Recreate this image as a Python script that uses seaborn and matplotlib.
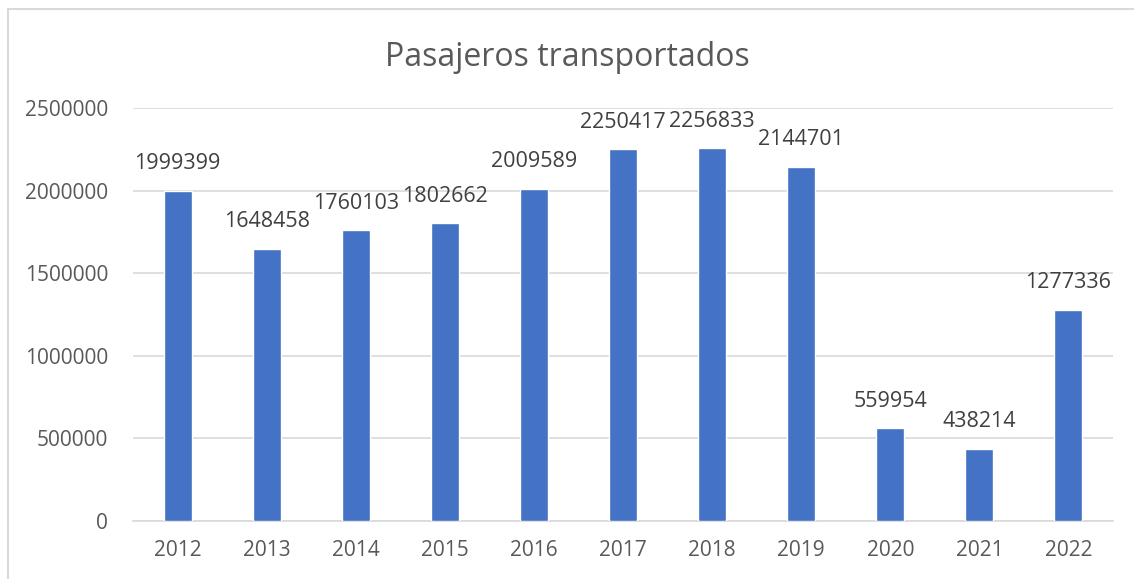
import matplotlib
matplotlib.use("Agg")
import matplotlib.pyplot as plt
import seaborn as sns
import pandas as pd
from matplotlib.patches import Rectangle

years = ["2012", "2013", "2014", "2015", "2016", "2017", "2018", "2019", "2020", "2021", "2022"]
passengers = [1999399, 1648458, 1760103, 1802662, 2009589, 2250417, 2256833, 2144701, 559954, 438214, 1277336]
yticks = [0, 500000, 1000000, 1500000, 2000000, 2500000]

df = pd.DataFrame({"year": years, "pasajeros": passengers})

sns.set_theme(style="white")
plt.rcParams['font.family'] = ['Open Sans', 'DejaVu Sans']

W, H = 1134, 579
fig = plt.figure(figsize=(W / 100, H / 100), dpi=100)
ax = fig.add_axes([133 / W, 1 - 521 / H, (1113 - 133) / W, (521 - 108) / H])

sns.barplot(data=df, x="year", y="pasajeros", color="#4472C4", width=0.315,
            saturation=1, ax=ax, zorder=3)

ax.set_ylim(0, 2500000)
ax.set_xlim(-0.5, len(years) - 0.5)
ax.set_yticks(yticks)
ax.set_yticklabels([str(v) for v in yticks])
ax.yaxis.grid(True, color="#D9D9D9", linewidth=1.2, zorder=0)
for s in ["top", "right", "left"]:
    ax.spines[s].set_visible(False)
ax.spines["bottom"].set_color("#D9D9D9")
ax.spines["bottom"].set_linewidth(1.2)
ax.tick_params(axis="both", length=0, labelsize=15, labelcolor="#595959")
ax.tick_params(axis="y", pad=18)
ax.tick_params(axis="x", pad=14)
ax.set_xlabel("")
ax.set_ylabel("")

for c in ax.containers:
    ax.bar_label(c, labels=[str(v) for v in passengers], padding=12, fontsize=15.5, color="#404040")

fig.text(0.5, 1 - 57 / H, "Pasajeros transportados", ha="center", va="center",
         fontsize=23, color="#595959")

fig.patches.append(Rectangle((8 / W, -0.1), 1.2, 1 - 9 / H + 0.1, transform=fig.transFigure,
                             fill=False, edgecolor="#D9D9D9", linewidth=1.5))

fig.savefig("out.png", dpi=100)
